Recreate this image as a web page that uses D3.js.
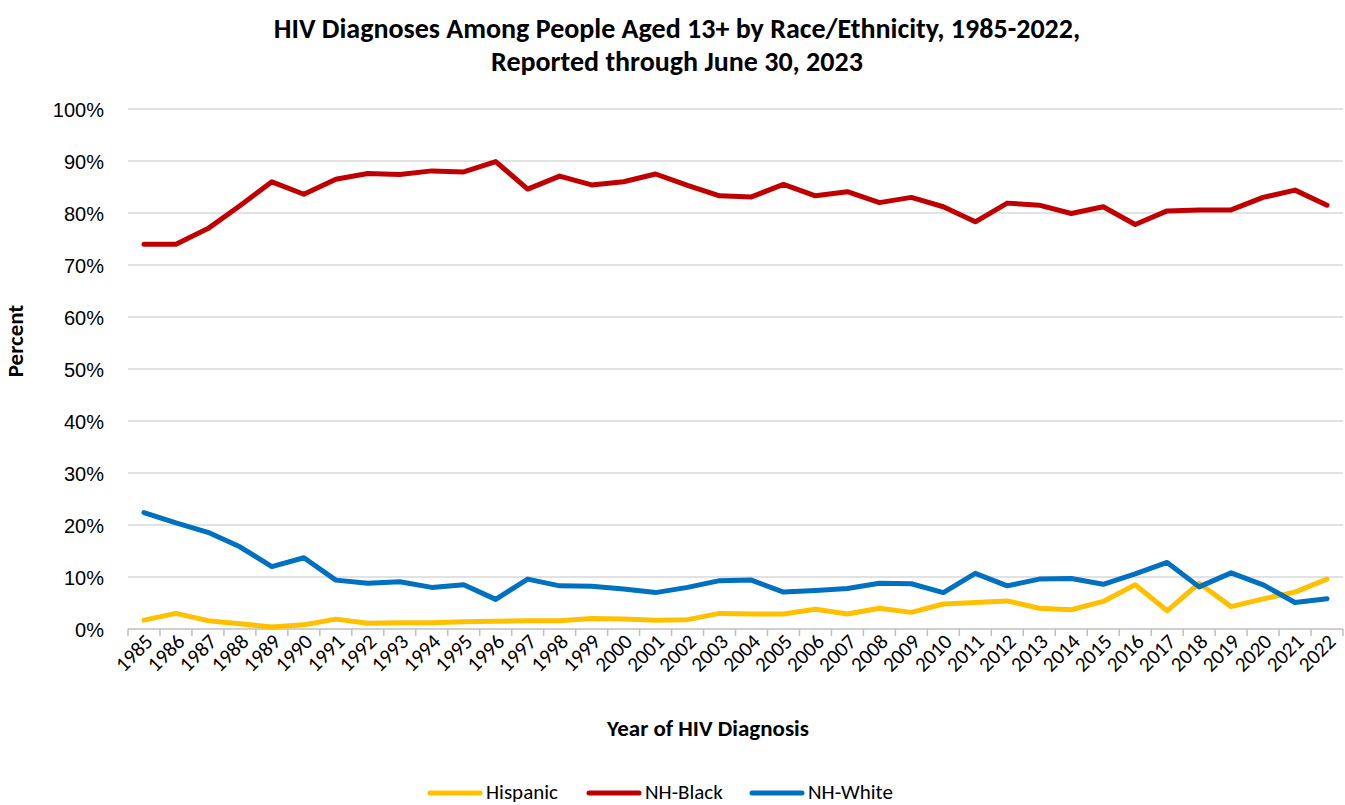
<html>
<head>
<meta charset="utf-8">
<script src="https://cdn.jsdelivr.net/npm/d3@7"></script>
<style>
	body{ margin:0; background:#fff; }
	svg{ font-family: Carlito, Calibri, Lato, "Noto Sans", sans-serif; }
	.grid line{ stroke:#d9d9d9; stroke-width:1.5; }
	.series{ fill:none; stroke-width:5; stroke-linejoin:round; stroke-linecap:round; }
</style>
</head>
<body>
<div id="container"></div>
<script>

var years = d3.range(1985, 2023).map(String);

var hispanic = [1.7, 3.0, 1.6, 1.0, 0.4, 0.8, 1.9, 1.1, 1.2, 1.2, 1.4, 1.5, 1.6,
	1.6, 2.0, 1.9, 1.7, 1.8, 3.0, 2.9, 2.9, 3.8, 2.9, 4.0, 3.2,
	4.8, 5.1, 5.4, 4.0, 3.7, 5.3, 8.5, 3.5, 8.8, 4.3, 5.8, 7.1, 9.6];

var nhBlack = [74.0, 74.0, 77.0, 81.4, 86.0, 83.6, 86.5, 87.6, 87.4, 88.1, 87.9, 89.9, 84.6,
	87.1, 85.4, 86.0, 87.5, 85.3, 83.3, 83.1, 85.5, 83.3, 84.1, 82.0, 83.0,
	81.2, 78.3, 81.9, 81.5, 79.9, 81.2, 77.8, 80.4, 80.6, 80.6, 83.0, 84.4, 81.5];

var nhWhite = [22.4, 20.4, 18.6, 15.8, 12.0, 13.7, 9.4, 8.8, 9.1, 8.0, 8.5, 5.7, 9.6,
	8.3, 8.2, 7.7, 7.0, 8.0, 9.3, 9.4, 7.1, 7.4, 7.8, 8.8, 8.7,
	7.0, 10.7, 8.3, 9.6, 9.7, 8.6, 10.6, 12.8, 8.1, 10.8, 8.5, 5.1, 5.8];

var yTicks = [0, 10, 20, 30, 40, 50, 60, 70, 80, 90, 100];

var seriesNames = ["Hispanic", "NH-Black", "NH-White"];
var seriesColors = ["#FFC000", "#C00000", "#0070C0"];
var seriesData = [hispanic, nhBlack, nhWhite];

var width = 1345, height = 805;
var plotLeft = 128, plotRight = 1343, plotTop = 109, plotBottom = 629;

var svg = d3.select("#container").append("svg")
	.attr("width", width)
	.attr("height", height);

var x = d3.scaleBand()
	.domain(years)
	.range([plotLeft, plotRight]);

var y = d3.scaleLinear()
	.domain([0, 100])
	.range([plotBottom, plotTop]);

// title
var title = svg.append("text")
	.attr("text-anchor", "middle")
	.attr("font-weight", "bold")
	.attr("font-size", 28)
	.attr("fill", "#000");
title.append("tspan").attr("x", 677).attr("y", 38)
	.text("HIV Diagnoses Among People Aged 13+ by Race/Ethnicity, 1985-2022,");
title.append("tspan").attr("x", 677).attr("y", 71)
	.text("Reported through June 30, 2023");

// gridlines
svg.append("g")
	.attr("class", "grid")
	.selectAll("line")
	.data(yTicks.slice(1))
	.enter().append("line")
		.attr("x1", plotLeft)
		.attr("x2", plotRight)
		.attr("y1", function(d){ return y(d); })
		.attr("y2", function(d){ return y(d); });

// y axis labels
var yAxis = d3.axisLeft(y)
	.tickValues(yTicks)
	.tickSize(0)
	.tickPadding(0)
	.tickFormat(function(d){ return d + "%"; });

var gy = svg.append("g")
	.attr("transform", "translate(104,0)")
	.call(yAxis);
gy.select(".domain").remove();
gy.selectAll("text")
	.attr("font-size", 20)
	.attr("font-family", null)
	.attr("fill", "#000")
	.attr("dy", "0.35em");

// x axis
var gx = svg.append("g")
	.attr("transform", "translate(0," + plotBottom + ")");

gx.append("line")
	.attr("x1", plotLeft).attr("x2", plotRight)
	.attr("y1", 0).attr("y2", 0)
	.attr("stroke", "#bfbfbf").attr("stroke-width", 1.5);

var bounds = years.map(function(d){ return x(d); }).concat([plotRight]);
gx.selectAll(".tk").data(bounds).enter().append("line")
	.attr("class", "tk")
	.attr("x1", function(d){ return d; })
	.attr("x2", function(d){ return d; })
	.attr("y1", 0).attr("y2", 7)
	.attr("stroke", "#bfbfbf").attr("stroke-width", 1.5);

gx.selectAll(".lbl").data(years).enter().append("text")
	.attr("class", "lbl")
	.attr("font-size", 21)
	.attr("fill", "#000")
	.attr("text-anchor", "end")
	.attr("transform", function(d){
		return "translate(" + (x(d) + x.bandwidth() / 2 + 10) + ",14) rotate(-45)";
	})
	.text(function(d){ return d; });

// axis titles
svg.append("text")
	.attr("x", 708).attr("y", 736)
	.attr("text-anchor", "middle")
	.attr("font-weight", "bold")
	.attr("font-size", 23)
	.text("Year of HIV Diagnosis");

svg.append("text")
	.attr("transform", "translate(23,341) rotate(-90)")
	.attr("text-anchor", "middle")
	.attr("font-weight", "bold")
	.attr("font-size", 23)
	.text("Percent");

// lines
var line = d3.line()
	.x(function(d, i){ return x(years[i]) + x.bandwidth() / 2; })
	.y(function(d){ return y(d); });

seriesData.forEach(function(s, i){
	svg.append("path")
		.datum(s)
		.attr("class", "series")
		.attr("stroke", seriesColors[i])
		.attr("d", line);
});

// legend
var legendX = [430, 589, 752];
var lg = svg.append("g");
seriesNames.forEach(function(n, i){
	lg.append("line")
		.attr("x1", legendX[i]).attr("x2", legendX[i] + 50)
		.attr("y1", 793).attr("y2", 793)
		.attr("stroke", seriesColors[i])
		.attr("stroke-width", 5)
		.attr("stroke-linecap", "round");
	lg.append("text")
		.attr("x", legendX[i] + 56)
		.attr("y", 799)
		.attr("font-size", 21)
		.text(n);
});

</script>
</body>
</html>
